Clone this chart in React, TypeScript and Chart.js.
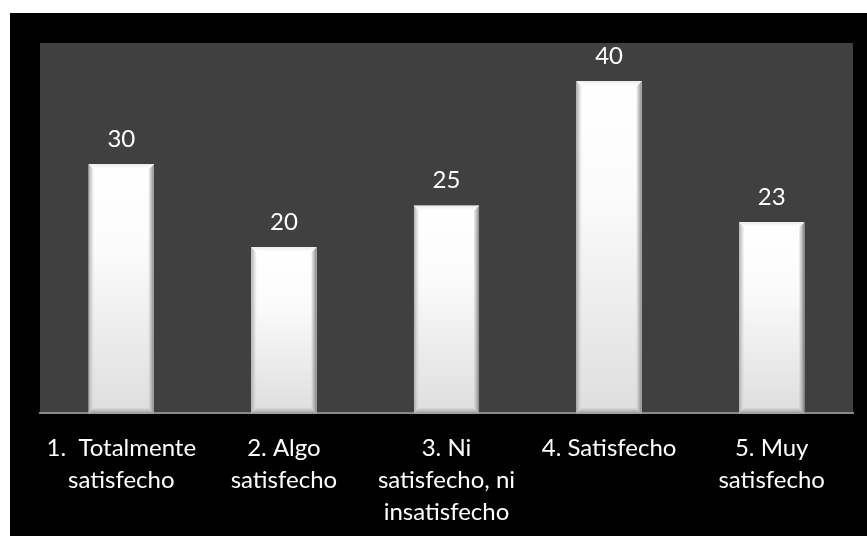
import React, { useEffect, useRef } from "react";
import { Chart, registerables } from "chart.js";

Chart.register(...registerables);

const categories: string[][] = [
  ["1.  Totalmente", "satisfecho"],
  ["2. Algo", "satisfecho"],
  ["3. Ni", "satisfecho, ni", "insatisfecho"],
  ["4. Satisfecho"],
  ["5. Muy", "satisfecho"],
];
const values: number[] = [30, 20, 25, 40, 23];
const yMin = 0;
const yMax = 44.6;

const FONT = "Lato, 'Open Sans', 'DejaVu Sans', sans-serif";

const plotBgPlugin = {
  id: "plotBg",
  beforeDraw(chart: any) {
    const { ctx, chartArea } = chart;
    ctx.save();
    ctx.fillStyle = "#404040";
    ctx.fillRect(chartArea.left, chartArea.top, chartArea.right - chartArea.left, chartArea.bottom - chartArea.top);
    ctx.restore();
  },
};

const bevelPlugin = {
  id: "bevel",
  afterDatasetsDraw(chart: any) {
    const ctx = chart.ctx;
    const meta = chart.getDatasetMeta(0);
    meta.data.forEach((bar: any) => {
      const { x, y, base, width } = bar.getProps(["x", "y", "base", "width"], true);
      const l = x - width / 2;
      const r = x + width / 2;
      const t = Math.min(y, base);
      const b = Math.max(y, base);
      const h = b - t;
      const e = 5;
      ctx.save();
      let g = ctx.createLinearGradient(0, t, 0, b);
      g.addColorStop(0, "#ffffff");
      g.addColorStop(0.35, "#fbfbfb");
      g.addColorStop(1, "#dedede");
      ctx.fillStyle = g;
      ctx.fillRect(l, t, width, h);
      // left bevel
      g = ctx.createLinearGradient(l, 0, l + e, 0);
      g.addColorStop(0, "rgba(170,170,170,1)");
      g.addColorStop(1, "rgba(225,225,225,0.3)");
      ctx.fillStyle = g;
      ctx.beginPath();
      ctx.moveTo(l, t);
      ctx.lineTo(l + e, t + e);
      ctx.lineTo(l + e, b - e);
      ctx.lineTo(l, b);
      ctx.closePath();
      ctx.fill();
      // right bevel
      g = ctx.createLinearGradient(r - e, 0, r, 0);
      g.addColorStop(0, "rgba(200,200,200,0.4)");
      g.addColorStop(1, "rgba(130,130,130,1)");
      ctx.fillStyle = g;
      ctx.beginPath();
      ctx.moveTo(r, t);
      ctx.lineTo(r - e, t + e);
      ctx.lineTo(r - e, b - e);
      ctx.lineTo(r, b);
      ctx.closePath();
      ctx.fill();
      // top bevel
      g = ctx.createLinearGradient(0, t, 0, t + e);
      g.addColorStop(0, "rgba(235,235,235,1)");
      g.addColorStop(1, "rgba(255,255,255,0.6)");
      ctx.fillStyle = g;
      ctx.beginPath();
      ctx.moveTo(l, t);
      ctx.lineTo(r, t);
      ctx.lineTo(r - e, t + e);
      ctx.lineTo(l + e, t + e);
      ctx.closePath();
      ctx.fill();
      // bottom bevel
      g = ctx.createLinearGradient(0, b - e, 0, b);
      g.addColorStop(0, "rgba(200,200,200,0.5)");
      g.addColorStop(1, "rgba(150,150,150,1)");
      ctx.fillStyle = g;
      ctx.beginPath();
      ctx.moveTo(l, b);
      ctx.lineTo(r, b);
      ctx.lineTo(r - e, b - e);
      ctx.lineTo(l + e, b - e);
      ctx.closePath();
      ctx.fill();
      ctx.restore();
    });
  },
};

const valueLabelPlugin = {
  id: "valueLabels",
  afterDatasetsDraw(chart: any) {
    const ctx = chart.ctx;
    const meta = chart.getDatasetMeta(0);
    const data = chart.data.datasets[0].data as number[];
    ctx.save();
    ctx.fillStyle = "#ffffff";
    ctx.font = `24px ${FONT}`;
    ctx.textAlign = "center";
    ctx.textBaseline = "middle";
    meta.data.forEach((bar: any, i: number) => {
      const { x, y } = bar.getProps(["x", "y"], true);
      ctx.fillText(String(data[i]), x, y - 25);
    });
    ctx.restore();
  },
};

export default function App() {
  const canvasRef = useRef<HTMLCanvasElement | null>(null);

  useEffect(() => {
    if (!canvasRef.current) return;
    const chart = new Chart(canvasRef.current, {
      type: "bar",
      data: {
        labels: categories,
        datasets: [
          {
            data: values,
            backgroundColor: "#f4f4f4",
            borderWidth: 0,
            barPercentage: 0.4,
            categoryPercentage: 1,
          },
        ],
      },
      options: {
        animation: false,
        responsive: false,
        maintainAspectRatio: false,
        layout: { padding: { left: 30, right: 14, top: 30, bottom: -11 } },
        plugins: {
          legend: { display: false },
          tooltip: { enabled: false },
          title: { display: false },
        },
        scales: {
          x: {
            grid: { display: false, drawTicks: false },
            border: { display: true, color: "#8a8a8a", width: 2 },
            ticks: {
              color: "#ffffff",
              font: { family: FONT, size: 24, lineHeight: 1.33 },
              padding: 19,
              maxRotation: 0,
              autoSkip: false,
            },
          },
          y: {
            display: false,
            min: yMin,
            max: yMax,
          },
        },
      },
      plugins: [plotBgPlugin, bevelPlugin, valueLabelPlugin],
    });
    return () => chart.destroy();
  }, []);

  return (
    <div
      style={{
        position: "absolute",
        left: 10,
        top: 13,
        width: 857,
        height: 523,
        background: "#000000",
        overflow: "hidden",
      }}
    >
      <canvas ref={canvasRef} width={857} height={523} style={{ display: "block" }} />
    </div>
  );
}
